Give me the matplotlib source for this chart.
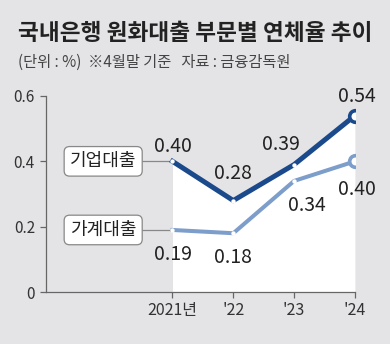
import matplotlib.pyplot as plt

plt.rcParams['font.family'] = ['Noto Sans CJK KR', 'DejaVu Sans']

# data (연체율, %)
years = [2021, 2022, 2023, 2024]
year_labels = ['2021년', "'22", "'23", "'24"]
corp = [0.40, 0.28, 0.39, 0.54]    # 기업대출
house = [0.19, 0.18, 0.34, 0.40]   # 가계대출
yticks = [0, 0.2, 0.4, 0.6]
ytick_labels = ['0', '0.2', '0.4', '0.6']

bg = '#e4e4e6'
dark = '#1b4a8c'
light = '#7d9dcb'
PX = 0.72  # pixels -> points at dpi 100

fig = plt.figure(figsize=(3.9, 3.44), dpi=100)
fig.patch.set_facecolor(bg)
ax = fig.add_axes([0.118, 0.151, 0.792, 0.570])
ax.set_facecolor(bg)

fig.text(0.045, 0.903, '국내은행 원화대출 부문별 연체율 추이', fontsize=16.3,
         fontweight='bold', color='#222222', va='center')
fig.text(0.045, 0.818, '(단위 : %)  ※4월말 기준   자료 : 금융감독원', fontsize=11,
         color='#444444', va='center')

# white area under the top line
ax.fill_between(years, 0, corp, color='white', zorder=1, lw=0)

ax.plot(years, corp, color=dark, lw=3.6, zorder=3, solid_joinstyle='miter')
ax.plot(years, house, color=light, lw=2.9, zorder=2, solid_joinstyle='miter')

# small dots, big ring at the end
ax.scatter(years[:-1], corp[:-1], s=10, color='white', zorder=4, lw=0)
ax.scatter(years[:-1], house[:-1], s=10, color='white', zorder=4, lw=0)
ax.scatter(years[-1:], corp[-1:], s=70, facecolor='white', edgecolor=dark, lw=2.6, zorder=5)
ax.scatter(years[-1:], house[-1:], s=70, facecolor='white', edgecolor=light, lw=2.6, zorder=5)

# value labels, offsets in pixels (baseline of text)
vfs = 14
corp_off = [(0, 9), (0, 22), (-13, 15), (2, 14)]
house_off = [(1, -30), (0, -30), (13, -30), (2, -34)]
for x, y, o in zip(years, corp, corp_off):
    ax.annotate(f'{y:.2f}', (x, y), xytext=(o[0] * PX, o[1] * PX), textcoords='offset points',
                ha='center', va='baseline', fontsize=vfs, color='#222222',
                annotation_clip=False, zorder=6)
for x, y, o in zip(years, house, house_off):
    ax.annotate(f'{y:.2f}', (x, y), xytext=(o[0] * PX, o[1] * PX), textcoords='offset points',
                ha='center', va='baseline', fontsize=vfs, color='#222222',
                annotation_clip=False, zorder=6)

# series name boxes with leader lines
for name, y in [('기업대출', corp[0]), ('가계대출', house[0])]:
    ax.plot([2020.2, years[0]], [y, y], color='#888888', lw=0.9, zorder=2)
    ax.text(2019.86, y, name, ha='center', va='center', fontsize=13, color='#222222', zorder=6,
            bbox=dict(boxstyle='round,pad=0.32,rounding_size=0.3', facecolor='white',
                      edgecolor='#888888', lw=0.9))

ax.set_xlim(2018.92, 2024)
ax.set_ylim(0, 0.6)
ax.set_xticks(years)
ax.set_xticklabels(year_labels)
ax.set_yticks(yticks)
ax.set_yticklabels(ytick_labels)
ax.tick_params(axis='both', colors='#666666', labelcolor='#333333', labelsize=11,
               length=4, width=0.9)
ax.tick_params(axis='y', pad=4)
ax.tick_params(axis='x', pad=3, labelsize=11.5)
for s in ['top', 'right']:
    ax.spines[s].set_visible(False)
for s in ['left', 'bottom']:
    ax.spines[s].set_color('#666666')
    ax.spines[s].set_linewidth(0.9)

fig.savefig('out.png', dpi=100, facecolor=bg)
